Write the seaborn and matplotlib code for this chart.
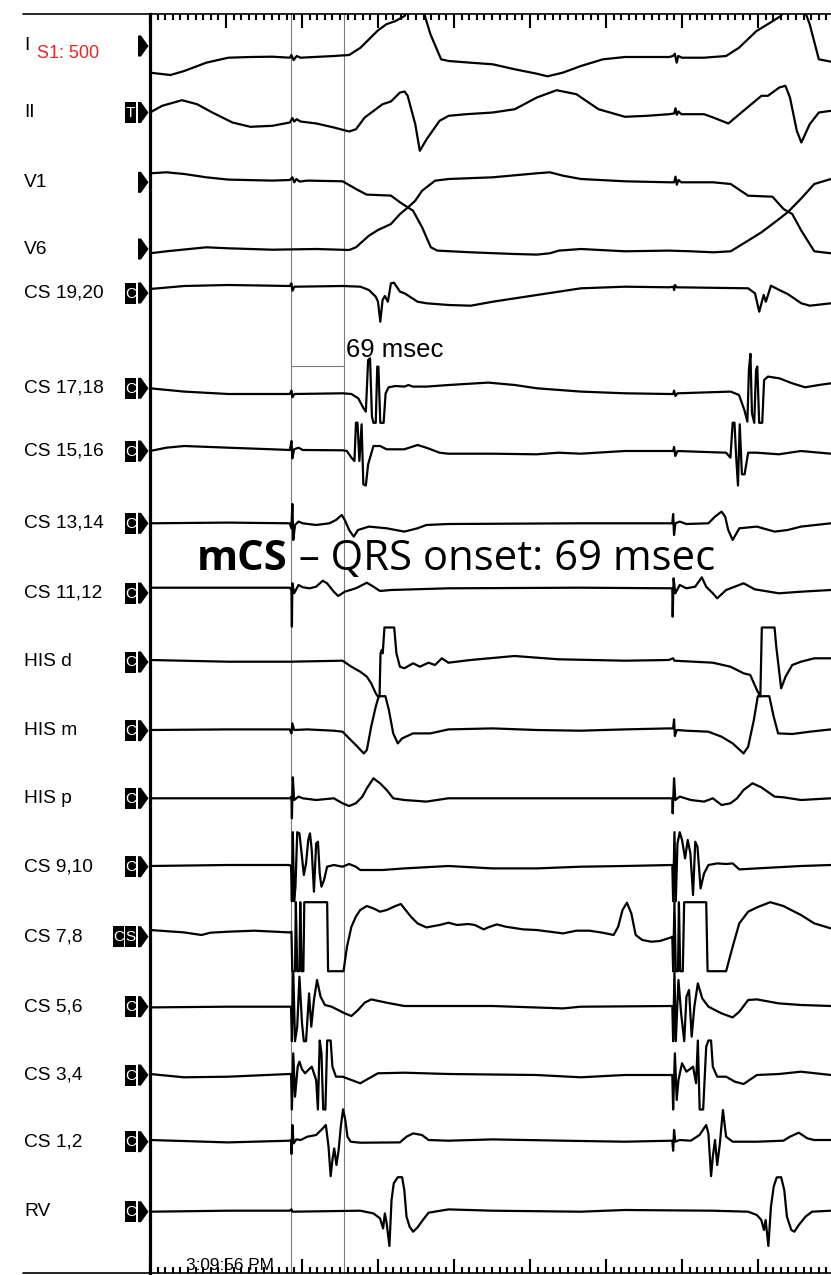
import numpy as np
import pandas as pd
import matplotlib
matplotlib.use("Agg")
import matplotlib.pyplot as plt
import seaborn as sns
from matplotlib.patches import Polygon, Rectangle
from matplotlib.ticker import MultipleLocator

# ---------------- data (time in ms from sweep start, deflection in px units) ----------------
channel_names = ["I", "II", "V1", "V6", "CS 19,20", "CS 17,18", "CS 15,16", "CS 13,14",
                 "CS 11,12", "HIS d", "HIS m", "HIS p", "CS 9,10", "CS 7,8", "CS 5,6",
                 "CS 3,4", "CS 1,2", "RV"]
channel_tags = ["", "T", "", "", "C", "C", "C", "C", "C", "C", "C", "C", "C", "CS", "C", "C", "C", "C"]

lead_I = [(0,-26.7),(27,-29),(45,-25),(74,-16.7),(103,-11.7),(132,-11),(161,-10.7),(184,-11.7),(186,-9),(189,-14),(193,-10),(198,-11.7),(242,-10),(262,-9),(277,-1.7),(300,15.7),(311,21.7),(323,25),(335,30),(345,45),(355,45),(361,31.7),(369,11.7),(383,-13.3),(393,-15),(422,-16.7),(451,-18.3),(480,-23.3),(509,-27.7),(523,-30.3),(543,-26.7),(567,-20),(596,-13.3),(625,-11),(654,-11),(683,-11),(688,-10),(690.5,-7.7),(693,-16.7),(695,-10),(700,-11.7),(729,-11.7),(758,-10),(775,-1.7),(798,15),(816,23.3),(830,30),(839,40),(859,40),(868,21.7),(880,-13.3),(896,-15.7)]
lead_II = [(0,0),(16,6.7),(42,12.3),(62,8.3),(82,0),(108.5,-10),(132,-14.3),(161,-13.3),(184,-10),(187.4,-5.7),(189.7,-9),(193,-6.7),(198,-9),(219,-11),(242,-15),(262,-19),(271,-16.7),(282.5,-5),(306,8.3),(317,11),(329,20),(335,21),(339,16.7),(349,-11.7),(355,-38.3),(364,-26.7),(381,-8.3),(393,-3.3),(416,-1.7),(451,0),(480,3.3),(509,15),(535,22.3),(561,18.3),(590,3.3),(625,-4.3),(654,-3.3),(683,-1.7),(689.6,-1),(691.4,4.3),(693.1,-2.3),(695.4,1),(699,-1.7),(729,-1.7),(741,-5),(761,-11),(775.5,-1.7),(804.5,16.7),(813,16.7),(828,25),(836,26.7),(842,15),(851,-18.3),(857,-30),(868,-11.7),(880,0),(896,1.7)]
lead_V1 = [(0,9),(21.5,10),(45,8.3),(74,5),(103,2.7),(161,1.7),(184,2.3),(187.4,5),(189.7,0),(192.6,3.3),(196.7,0.7),(207,1.7),(253.5,1),(271,-6.7),(285,-12.3),(317,-13.3),(329,-20),(337.6,-24.3),(346,-28.3),(358,-45),(369.5,-65),(378,-68.3),(422,-70),(480,-71.7),(509,-72.3),(526,-71),(538,-68.3),(567,-66.7),(625,-69),(683,-68.3),(712,-69),(741,-70),(764,-69),(787,-58.3),(804.5,-50),(822,-40),(839,-30),(857,-16),(874,-1.7),(896,3.3)]
lead_V6 = [(0,-4.3),(21.5,-2.3),(74,1.7),(103,0.7),(161,-0.7),(219,0),(262,-1),(271,1.7),(288,13.3),(300,19),(317,25),(329,35),(340.5,42.3),(349,48.3),(358,58.3),(375,68.3),(393,70),(451,71.7),(509,75.7),(526,76.7),(543.5,73.3),(567,70),(625,67.7),(683,66.7),(689.6,66.7),(691.4,72.3),(693.1,64.3),(695.4,69),(699,66.7),(741,66.7),(764,65),(787,53.3),(819,52.3),(833.5,40),(845,35),(857,18.3),(874,-2.3),(896,-4.3)]
cs_19_20 = [(0,4),(45,7),(103,8),(161,7.3),(184,7),(186,9.7),(187.4,2.3),(190,6.3),(253.5,7),(277,6.3),(288,3),(297,-3.7),(300,-8.7),(303,-28.7),(306,-7),(309,-3),(313,-8.7),(317,9.7),(321,10.3),(329,1.3),(335,-0.3),(352,-8.7),(364,-10.3),(393,-12),(422,-12.7),(451,-8.7),(509,-2),(567,4.7),(625,6.3),(683,5.7),(688.5,6.3),(689.6,3),(690.8,8),(693,5.7),(787,4.7),(796,-0.3),(801.6,-18.7),(804.5,-10.3),(807.4,-2),(810.3,-8.7),(817,7.3),(828,3),(839,-1),(857,-10.3),(868,-12.7),(896,-10.3)]
cs_17_18 = [(0,0),(45,-3.3),(103,-5.7),(184,-5.7),(186.2,-2.3),(187.4,-9),(190,-5.7),(253.5,-5),(265,-5.7),(274,-10),(281,-20),(284,-23.3),(287,28.3),(289.5,30),(292,-28.3),(294,-35),(297,-35),(299,21.7),(300.5,21.7),(303,-35),(307.4,-35),(310,-5),(314,1),(323,2.3),(335,1.7),(340,3.3),(346,1.7),(364,1.7),(393,3.3),(445,5.7),(480,3.3),(509,0),(567,-3.3),(625,-5),(683,-5.7),(688.4,-5.7),(689.5,-2.3),(691.3,-7.7),(694,-5),(764,-3.3),(775,-6.7),(782,-21.7),(786,-33.3),(788,18.3),(790,35),(792,-25),(795,-35),(797.4,18.3),(799,21.7),(801.5,-35),(805.5,-35),(808,8.3),(813,11.7),(828,10),(845,5),(862,1),(880,3.3),(896,5)]
cs_15_16 = [(0,0),(21.5,3.3),(45,5),(103,3.3),(161,1.7),(184,1),(186.2,10),(187.3,-7.3),(189.6,1.7),(195.4,3.3),(201,1),(253.4,0.7),(259,0),(265,-6.7),(269,-10),(271,28.3),(273,28.3),(275.5,-10),(278.4,26.7),(280.7,-33.3),(284,-35),(287,-13.3),(294,5),(302.7,5),(311.4,1.7),(334.6,1.7),(352,6),(363.6,3.3),(381,-1.7),(392.6,-2.7),(450.6,-2.7),(508.6,-3.3),(537.6,-1.7),(566.6,-2.7),(624.5,0),(688.3,0),(689.5,4),(691.2,-5),(694,0),(758,-1.7),(763.7,-6.7),(766.6,28.3),(769,28.3),(771.3,-6.7),(773.6,-38.3),(775.9,26.7),(778.8,-23.3),(782.3,-23.3),(787,-1.7),(798.5,-1.7),(827.5,-3.3),(856.5,0),(896,-2.7)]
cs_13_14 = [(0,0),(102.6,0.7),(183.8,0),(186.1,-5),(187.3,19.3),(188.5,-16.7),(190.8,-1.7),(195.4,1.7),(201,0),(218.6,-1.7),(236,0),(244.7,3.3),(252.3,8.3),(256.3,3.3),(262,-6.7),(268,-13.3),(273.7,-6.7),(288,-3.3),(311.4,-5),(334.6,-8.3),(352,-5),(363.6,-1.7),(392.6,-0.7),(566.6,0),(687.2,0),(688.3,9.3),(689.5,-11.7),(691.2,0),(697,1.7),(705.7,-0.7),(734.7,0),(743.4,6.7),(752,11.7),(756.7,6.7),(760.8,-6.7),(766.6,-16.7),(775.4,-5),(798.5,-3.3),(821.7,-8.3),(839,-6.7),(856.5,-3.3),(896,0)]
cs_11_12 = [(0,5.3),(183.8,5.3),(186.1,3),(186.7,-33.7),(187.3,9.7),(189.6,-0.3),(195.4,8),(201,5.7),(210,4.7),(218.6,6.3),(227.3,12.3),(233,9.7),(241.8,1.3),(247.6,-3),(256.3,1.3),(270.8,4.7),(285.3,10.3),(294,6.3),(302.7,2),(317,3),(392.6,4.7),(566.6,5.3),(687.2,4.7),(687.7,-23.7),(688.9,14.7),(691.2,-0.3),(697,8),(705.7,4.7),(717.3,6.3),(726,15.7),(731.8,6.3),(740.5,-0.3),(746.3,-5.3),(758,3),(781,9.7),(795.6,3.7),(827.5,-0.3),(856.5,1.3),(896,3)]
his_d = [(0,2),(102.6,0.3),(183.8,0.3),(253.4,1.3),(265,-4.7),(276.6,-9.7),(285.3,-14.7),(291,-21.3),(297,-31.3),(299.8,-41),(302,-41),(303.3,8.7),(305,12),(306.2,8.7),(308.5,38),(321.3,38),(324.2,8.7),(328.8,-4.7),(334.6,-6.3),(346.2,-1.3),(355,-4.7),(366.5,-0.7),(375,-3),(384,3.7),(392.6,-0.7),(421.6,2),(479.6,6),(537.6,2.7),(624.5,1.3),(682.5,2),(688.3,3.7),(690,1.3),(740.5,-0.7),(763.7,-4.7),(781,-11.3),(789.8,-13),(798.5,-28),(803,-41),(805,38),(821.7,38),(824,15.3),(830.4,-26.3),(836.2,-14.7),(845,-3),(856.5,0.3),(874,3.7),(896,3.7)]
his_m = [(0,0.7),(102.6,1.3),(183.8,1.3),(186.1,-2.7),(187.3,7.3),(189.6,0.7),(207,1.3),(241.8,0),(253.4,-1),(262,-7.7),(270.8,-14.3),(281.3,-22.7),(285.3,-19.3),(291,4),(297,24),(301,37),(309.7,37),(314.3,20.7),(320,-2.7),(326,-12.7),(331.7,-7.7),(346,-2.7),(369,-2.7),(392.6,1.3),(450.6,2.3),(508.6,0.7),(566.6,0),(624.5,1.3),(682.5,2.3),(688.3,2.3),(689.5,11.3),(690.6,-5.3),(693,0.7),(705.7,0),(734.7,-1),(752,-6),(766.6,-12.7),(781,-22.7),(787,-16),(794.5,10.7),(799.7,37),(814.8,37),(820.6,14),(826.4,-2.7),(845,-3.3),(868,-1),(896,1.3)]
his_p = [(0,0),(183.8,0),(186.1,1.7),(186.7,-20),(187.9,21),(189.6,-1.7),(195.4,1.7),(201,0),(218.6,-1.7),(241.8,0),(253.4,-5),(262,-7.7),(270.8,-5),(279.5,1.7),(285.3,10),(294,20),(302.7,15),(311.4,8.3),(320,0),(334.6,-1.7),(363.6,-3.3),(392.6,0),(687.2,0),(687.7,-15),(689.5,20),(691.2,-1.7),(697,1.7),(711.5,-1.7),(729,-3.3),(740.5,0),(752,-6.7),(763.7,-5),(772.4,0),(781,8.3),(792.7,15),(804.3,11),(821.7,1.7),(833.3,1),(856.5,-1.7),(896,0)]
cs_9_10 = [(0,0.7),(102.6,1.7),(183.8,1.7),(185.6,0),(186.7,-40),(187.9,36.7),(189.6,-40),(191.4,-20),(193.7,36.7),(196.6,33.3),(199.5,13.3),(202.4,-8.3),(205.3,3.3),(208.2,26.7),(210.5,33.3),(212.8,16.7),(215.7,-25),(218.6,23.3),(221,25),(223.3,-6.7),(225.6,-20),(229,-13.3),(233,0),(241.8,1.7),(253.4,0),(262,2.7),(270.8,0),(276.6,-3.3),(305.6,-3.3),(334.6,-1.7),(392.6,0.7),(450.6,-1.7),(508.6,-1.7),(566.6,0),(624.5,0.7),(687.2,1.7),(688.3,-40),(690,36.7),(691.8,-40),(694,23.3),(697,36.7),(700,26.7),(704,8.3),(707.5,26.7),(711,13.3),(714.5,-28.3),(717.4,25),(720.3,20),(724.4,-21.7),(729,-6.7),(734.8,1.7),(746.4,3.3),(758,2.7),(766.6,3.3),(775.4,-2.7),(798.5,-1.7),(856.5,0.7),(896,1.7)]
cs_7_8 = [(0,6.7),(44.6,4.3),(67.8,1.7),(79.4,4),(102.6,5),(137.4,6),(183.8,4.3),(186.1,5),(187.3,-36.7),(190.8,-36.7),(191.9,38.3),(193.7,-36.7),(196.6,-36.7),(197.7,38.3),(199.5,-36.7),(201.8,-36.7),(203,38.3),(233.1,38.3),(234.3,-36.7),(254.6,-36.7),(259.2,-10),(265,10),(270.8,20),(276.6,26.7),(285.3,30.7),(294,28.3),(302.7,25),(311.4,26.7),(323,30.7),(330,32.7),(334.6,28.3),(343.3,20),(352,13.3),(363.6,9.3),(381,11.7),(392.6,14),(404.2,11.7),(418.7,12.7),(427.4,11.7),(439,7.3),(444.8,9.3),(456.4,12.3),(468,10),(491.2,7.3),(508.6,6.7),(526,5),(543.4,3.3),(560.8,6),(578.2,6),(595.6,4),(610,1.7),(616,10),(621.7,26.7),(627.5,34),(633.3,23.3),(639,1.7),(647.8,-3.3),(659.4,-5),(671,-4.3),(685.5,-0.7),(687.2,0),(688.3,-36.7),(690,38.3),(691.8,-36.7),(694.7,-36.7),(695.9,38.3),(697.6,-36.7),(701,-36.7),(702.8,38.3),(731.8,38.3),(733.6,-36.7),(758,-36.7),(766.6,-10),(775.3,13.3),(787,25),(798.5,29.3),(816,35),(833.3,30.7),(856.5,21.7),(874,13.3),(896,8.3)]
cs_5_6 = [(0,-0.7),(102.6,0),(185.6,0),(186.7,-36.7),(188.5,36.7),(190.8,-36.7),(193.7,-20),(196.6,30),(200,-16.7),(202.4,-36.7),(205.3,-36.7),(209.3,13.3),(212.2,-20),(215.7,6.7),(219.8,26.7),(224.4,10),(230.2,1.7),(238.9,0),(247.6,-3.3),(256.3,-6.7),(265,-9.3),(273.7,-3.3),(282.4,4),(291,7.3),(311.4,4),(334.6,0.7),(450.6,0.7),(543.4,-1.7),(566.6,0),(687.2,0.7),(688.3,-36.7),(690,36.7),(691.8,-36.7),(695.3,26.7),(698.8,-6.7),(702.9,-36.7),(705.8,10),(709.2,16.7),(712.7,-30),(716.2,0),(720.8,23.3),(726.6,8.3),(734.8,0),(752,-6.7),(766.6,-10.7),(775.4,-5),(787,6.7),(798.5,7.3),(827.5,3.3),(856.5,1.7),(896,0.7)]
cs_3_4 = [(0,1),(44.6,-2.3),(102.6,-1.7),(183.8,1),(185.6,1),(186.7,-38.3),(188.5,21.7),(190.8,-21.7),(194.3,8.3),(196.6,13.3),(200,5.7),(204,1.7),(208.2,5),(212.8,8.3),(215.7,1.7),(218.6,-5),(220.9,-38.3),(223.3,36.7),(225.6,21.7),(227.9,-38.3),(230.8,-38.3),(233.1,36.7),(237.7,36.7),(240,8.3),(244.7,-1.7),(253.4,-1.7),(265,-5),(276.6,-8.3),(288.2,-3.3),(299.8,1.7),(334.6,2.3),(392.6,1),(508.6,0),(566.6,-2.3),(624.5,0),(687.2,0),(688.3,-38.3),(690.6,21.7),(693,-25),(695.3,-5),(700,11.7),(705.8,3.3),(714.5,8.3),(718.5,-8.3),(720.8,36.7),(723.2,-38.3),(727.8,-38.3),(731.8,28.3),(734.7,36.7),(738.2,36.7),(740.5,8.3),(746.3,-1.7),(758,-1.7),(769.5,-6.7),(781,-9),(798.5,0),(827.5,1),(856.5,3.3),(896,0)]
cs_1_2 = [(0,1.7),(102.6,-0.7),(183.8,1),(185.6,1.7),(186.1,-12.3),(187.3,16.7),(189,-1.7),(192.5,2.3),(198.3,1.7),(207,5),(218.6,6.7),(227.3,13.3),(231.4,16.7),(234.9,-5),(237.7,-35.7),(240,-18.3),(242.4,-6.7),(245.3,-23.3),(248.2,-8.3),(251,15),(254,32.3),(257,21.7),(259.8,5),(264,0),(276.6,-1),(328.8,-0.7),(337.5,5),(346.2,8.3),(357.8,6.7),(366.5,1.7),(392.6,1),(450.6,2.3),(566.6,0.7),(624.5,0),(687.2,1),(688.3,-9),(689.5,11.7),(691.2,0),(697,1.7),(711.5,1),(723,6.7),(731.8,16.7),(734.7,8.3),(738.2,-35.7),(740.5,-15),(743.4,1.7),(746.3,-23.3),(749.8,-1.7),(753.8,31.7),(758,5),(766.6,0),(798.5,0),(833.3,1),(842,5),(853.6,9),(865,3.3),(874,1.7),(896,1.7)]
rv = [(0,0),(102.6,1),(183.8,1),(186.1,2.3),(187.3,0),(276.6,1),(294,-1.7),(302.7,-6.7),(306.7,-16.7),(309,-1.7),(311.4,-11.7),(315,-34.3),(317.8,11.7),(320.7,28.3),(326,35.7),(331.7,35),(334.6,21.7),(337.5,-5),(341.6,-15),(346.2,-20),(352,-15.7),(359,-8.3),(366.5,-1),(392.6,2.3),(450.6,1),(566.6,0),(624.5,1.7),(740.5,1),(787,0),(798.5,-3.3),(804.3,-8.3),(807.8,-18.3),(810,-8.3),(813.6,-34.3),(817,5),(820.6,25),(824.6,34.3),(830.4,35),(834.5,21.7),(838,-5),(843.8,-18.3),(847.8,-20),(853.6,-13.3),(862.4,-5),(871,0),(896,1)]

traces = [lead_I, lead_II, lead_V1, lead_V6, cs_19_20, cs_17_18, cs_15_16, cs_13_14, cs_11_12,
          his_d, his_m, his_p, cs_9_10, cs_7_8, cs_5_6, cs_3_4, cs_1_2, rv]

sweep_ms = 896
cursor_ms = [186, 255]
interval_ms = 69
s1_cycle = 500
timestamp = "3:09:56 PM"
headline_bold = "mCS"
headline_rest = f" \u2013 QRS onset: {interval_ms} msec"

# ---------------- layout ----------------
W, H = 831, 1275
row_y = [46, 112.5, 182.3, 249, 293, 388.3, 451, 523.3, 593, 662, 730.7, 798.3,
         866.7, 936.7, 1006.7, 1075, 1141.7, 1211.7]
clip_amp = 34.5           # intracardiac channels are clipped to their row
n_surface = 4

sns.set_theme(style="white")
plt.rcParams["font.family"] = ["Liberation Sans", "DejaVu Sans"]

rows = []
for i, (name, pts) in enumerate(zip(channel_names, traces)):
    for k, (t, a) in enumerate(pts):
        if i >= n_surface:
            a = float(np.clip(a, -clip_amp, clip_amp))
        rows.append({"channel": name, "order": k, "t": t, "y": row_y[i] - a})
df = pd.DataFrame(rows)

fig = plt.figure(figsize=(W / 100, H / 100), dpi=100)
fig.patch.set_facecolor("white")

ax = fig.add_axes([150 / W, (H - 1273) / H, 681 / W, 1259 / H])
ax.set_facecolor("white")
sns.lineplot(data=df, x="t", y="y", units="channel", estimator=None, sort=False,
             color="black", linewidth=1.6, ax=ax, legend=False)
ax.set_xlim(0, sweep_ms)
ax.set_ylim(1273, 14)
ax.set_xlabel("")
ax.set_ylabel("")
ax.set_yticks([])
ax.xaxis.set_major_locator(MultipleLocator(100))
ax.xaxis.set_minor_locator(MultipleLocator(10))
ax.tick_params(axis="x", which="both", direction="in", top=True, bottom=True,
               labelbottom=False, labeltop=False, color="black", width=1.5)
ax.tick_params(axis="x", which="major", length=9.8)
ax.tick_params(axis="x", which="minor", length=4.5)
for s in ["top", "bottom", "right"]:
    ax.spines[s].set_visible(False)
ax.spines["left"].set_linewidth(2.3)
ax.spines["left"].set_color("black")

# cursors
for c in cursor_ms:
    ax.axvline(c, color="#7d7d7d", lw=0.8, zorder=1)
ax.plot(cursor_ms, [366, 366], color="#7d7d7d", lw=0.8)
ax.text(cursor_ms[1] + 3, 350, f"{interval_ms} msec", fontsize=18.5, ha="left", va="center",
        color="black")

# overlay (pixel coordinates) for labels and frame
ov = fig.add_axes([0, 0, 1, 1], facecolor="none")
ov.set_xlim(0, W)
ov.set_ylim(H, 0)
ov.axis("off")
ov.plot([23, W], [14, 14], color="black", lw=1.2)
ov.plot([23, W], [1273, 1273], color="black", lw=1.2)

for name, tag, y in zip(channel_names, channel_tags, row_y):
    ov.text(24, y, name, fontsize=13.8, ha="left", va="center", color="black")
    ov.add_patch(Polygon([(138, y - 10.5), (141, y - 10.5), (148.5, y), (141, y + 10.5),
                          (138, y + 10.5)], closed=True, color="black", lw=0))
    for k, ch in enumerate(reversed(tag)):
        x0 = 125 - 12 * k
        ov.add_patch(Rectangle((x0, y - 10.5), 11, 21, color="black", lw=0))
        ov.text(x0 + 5.5, y + 0.5, ch, color="white", fontsize=11, ha="center", va="center")

ov.text(37, 54, f"S1: {s1_cycle}", color="#e8262a", fontsize=13, ha="left", va="center")
ov.text(186, 1265, timestamp, fontsize=12.4, ha="left", va="center", color="black")

hb = ov.text(197, 570, headline_bold, fontsize=30.2, fontweight="bold", family="Open Sans",
             ha="left", va="baseline", color="black")
fig.canvas.draw()
bb = hb.get_window_extent(renderer=fig.canvas.get_renderer())
ov.text(bb.x1, 570, headline_rest, fontsize=30.2, family="Open Sans", ha="left",
        va="baseline", color="black")

fig.savefig("out.png", dpi=100, facecolor="white")
